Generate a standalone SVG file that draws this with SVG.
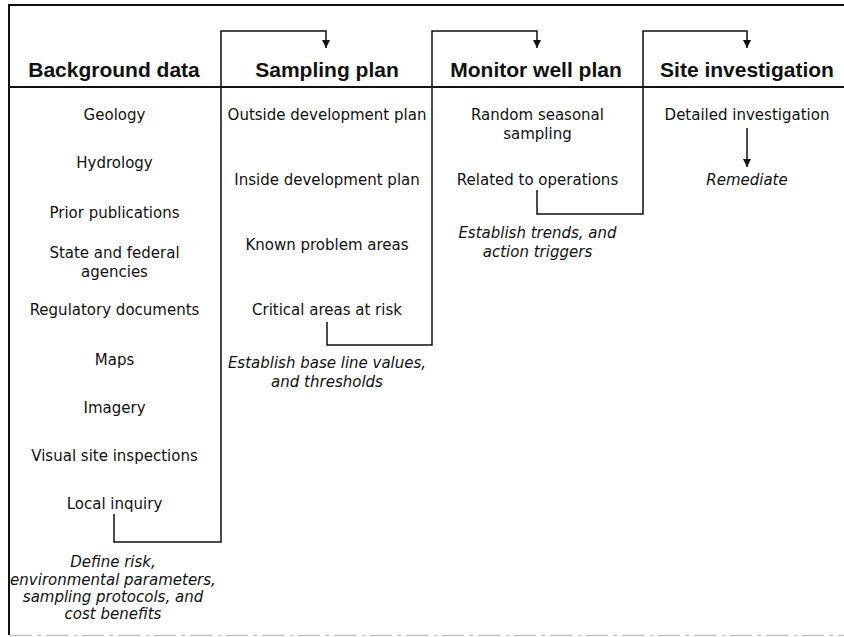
<svg xmlns="http://www.w3.org/2000/svg" width="844" height="637" viewBox="0 0 844 637">
<defs>
<style>
.h{font-family:"Liberation Sans",Arial,sans-serif;font-weight:bold;font-size:21px;fill:#111;text-anchor:middle}
.t{font-family:"DejaVu Sans","Liberation Sans",sans-serif;font-size:15px;fill:#111;text-anchor:middle}
.i{font-family:"DejaVu Sans","Liberation Sans",sans-serif;font-style:italic;font-size:15px;fill:#111;text-anchor:middle}
.ln{fill:none;stroke:#111;stroke-width:1.5}
.fr{fill:none;stroke:#111;stroke-width:2}
</style>
<marker id="ah" viewBox="0 0 10 10" refX="10" refY="5" markerWidth="8" markerHeight="11" markerUnits="userSpaceOnUse" orient="auto">
<path d="M0,0 L10,5 L0,10 z" fill="#111"/>
</marker>
</defs>
<rect width="844" height="637" fill="#fff"/>
<g id="frame">
<path class="fr" d="M9,635 L9,5 L844,5"/>
<path class="fr" d="M9,87 L844,87"/>
<path d="M10,635.5 L844,635.5" stroke="#c4c4c4" stroke-width="1.5" stroke-dasharray="22 6 3 5"/>
</g>
<g id="connectors">
<path class="ln" d="M114,514 L114,542 L221,542 L221,31 L326,31 L326,48" marker-end="url(#ah)"/>
<path class="ln" d="M327,322 L327,345 L432,345 L432,31 L537,31 L537,48" marker-end="url(#ah)"/>
<path class="ln" d="M537,190 L537,214 L643,214 L643,31 L747,31 L747,48" marker-end="url(#ah)"/>
<path class="ln" d="M747,128 L747,167" marker-end="url(#ah)"/>
</g>
<g id="col-background">
<g id="h-background"><text class="h" x="114" y="77">Background data</text></g>
<g id="n-geology"><text class="t" x="114.5" y="120">Geology</text></g>
<g id="n-hydrology"><text class="t" x="114.5" y="168">Hydrology</text></g>
<g id="n-prior"><text class="t" x="114.5" y="218">Prior publications</text></g>
<g id="n-state"><text class="t" x="114.5" y="258">State and federal</text><text class="t" x="114.5" y="277">agencies</text></g>
<g id="n-regulatory"><text class="t" x="114.5" y="315">Regulatory documents</text></g>
<g id="n-maps"><text class="t" x="114.5" y="365">Maps</text></g>
<g id="n-imagery"><text class="t" x="114.5" y="413">Imagery</text></g>
<g id="n-visual"><text class="t" x="114.5" y="461">Visual site inspections</text></g>
<g id="n-local"><text class="t" x="114.5" y="509">Local inquiry</text></g>
<g id="n-define"><text class="i" x="113" y="567">Define risk,</text><text class="i" x="113" y="585">environmental parameters,</text><text class="i" x="113" y="602">sampling protocols, and</text><text class="i" x="113" y="619">cost benefits</text></g>
</g>
<g id="col-sampling">
<g id="h-sampling"><text class="h" x="327" y="77">Sampling plan</text></g>
<g id="n-outside"><text class="t" x="327" y="120">Outside development plan</text></g>
<g id="n-inside"><text class="t" x="327" y="185">Inside development plan</text></g>
<g id="n-known"><text class="t" x="327" y="250">Known problem areas</text></g>
<g id="n-critical"><text class="t" x="327" y="315">Critical areas at risk</text></g>
<g id="n-baseline"><text class="i" x="327" y="368">Establish base line values,</text><text class="i" x="327" y="387">and thresholds</text></g>
</g>
<g id="col-monitor">
<g id="h-monitor"><text class="h" x="536" y="77">Monitor well plan</text></g>
<g id="n-random"><text class="t" x="537.5" y="120">Random seasonal</text><text class="t" x="537.5" y="139">sampling</text></g>
<g id="n-related"><text class="t" x="537.5" y="185">Related to operations</text></g>
<g id="n-trends"><text class="i" x="537.5" y="238">Establish trends, and</text><text class="i" x="537.5" y="257">action triggers</text></g>
</g>
<g id="col-site">
<g id="h-site"><text class="h" x="747" y="77">Site investigation</text></g>
<g id="n-detailed"><text class="t" x="747" y="120">Detailed investigation</text></g>
<g id="n-remediate"><text class="i" x="747" y="185">Remediate</text></g>
</g>
</svg>
